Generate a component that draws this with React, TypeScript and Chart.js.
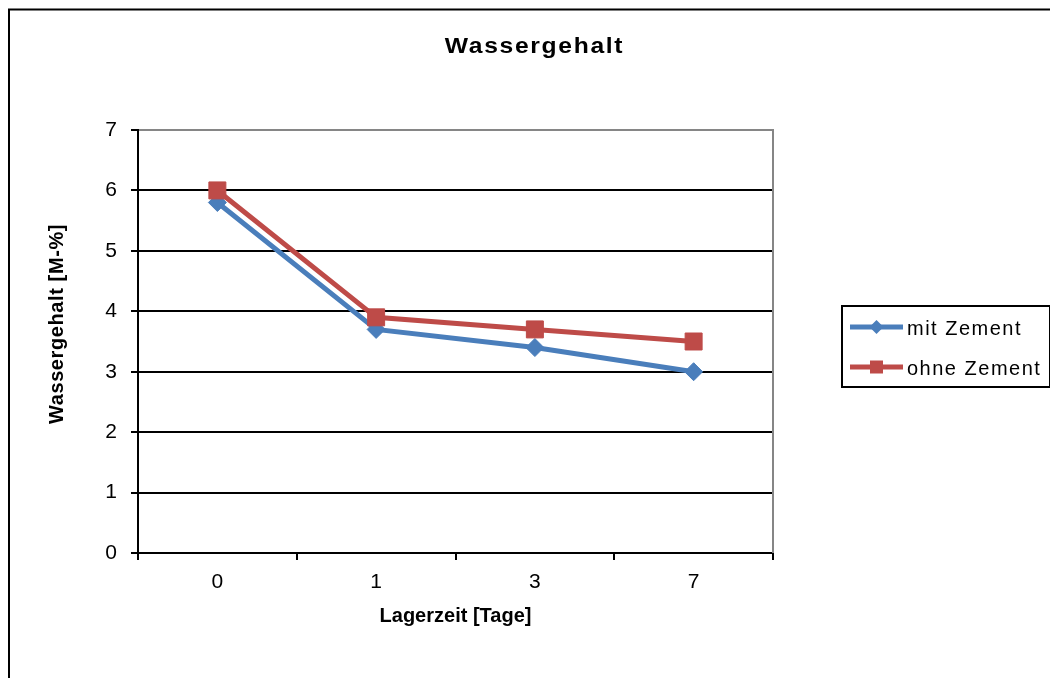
import React, { useEffect, useRef } from 'react';
import { Chart, registerables } from 'chart.js';

Chart.register(...registerables);

const categories = ['0', '1', '3', '7'];
const mitZement = [5.8, 3.7, 3.4, 3.0];
const ohneZement = [6.0, 3.9, 3.7, 3.5];
const seriesNames = ['mit Zement', 'ohne Zement'];
const yMin = 0;
const yMax = 7;
const yStep = 1;
const chartTitle = 'Wassergehalt';
const yTitle = 'Wassergehalt [M-%]';
const xTitle = 'Lagerzeit [Tage]';

const BLUE = '#4A7EBB';
const RED = '#BE4B48';
const GRAY = '#868686';
const FONT = '"Liberation Sans", Arial, sans-serif';

const decor = {
  id: 'decor',
  beforeDatasetsDraw(chart: any) {
    const { ctx, chartArea: a } = chart;
    ctx.save();
    ctx.strokeStyle = GRAY;
    ctx.lineWidth = 2;
    ctx.beginPath();
    ctx.moveTo(a.right, a.top - 1);
    ctx.lineTo(a.right, a.bottom);
    ctx.stroke();
    ctx.restore();
  },
  afterDraw(chart: any) {
    const { ctx, chartArea: a, width, height } = chart;
    ctx.save();
    // outer frame
    ctx.strokeStyle = '#000';
    ctx.lineWidth = 2;
    ctx.beginPath();
    ctx.moveTo(1, height);
    ctx.lineTo(1, 1.5);
    ctx.lineTo(width, 1.5);
    ctx.stroke();

    ctx.fillStyle = '#000';
    // chart title (slightly widened glyphs like the original rendering)
    ctx.save();
    ctx.font = `bold 22px ${FONT}`;
    (ctx as any).letterSpacing = '1.5px';
    ctx.textAlign = 'center';
    ctx.textBaseline = 'alphabetic';
    ctx.translate(width / 2 + 1.5, 45);
    ctx.scale(1.12, 1);
    ctx.fillText(chartTitle, 0, 0);
    ctx.restore();

    ctx.textAlign = 'center';
    ctx.textBaseline = 'alphabetic';
    // x title
    ctx.font = `bold 20px ${FONT}`;
    (ctx as any).letterSpacing = '0px';
    ctx.fillText(xTitle, (a.left + a.right) / 2, a.bottom + 69);

    // y title
    ctx.save();
    ctx.translate(54.5, 316);
    ctx.rotate(-Math.PI / 2);
    (ctx as any).letterSpacing = '0.6px';
    ctx.fillText(yTitle, 0, 0);
    ctx.restore();

    // legend
    const lx = 834, ly = 298, lw = 208, lh = 81;
    ctx.strokeStyle = '#000';
    ctx.lineWidth = 2;
    ctx.strokeRect(lx, ly, lw, lh);
    const colors = [BLUE, RED];
    const rows = [319, 359];
    ctx.font = `20px ${FONT}`;
    (ctx as any).letterSpacing = '1.5px';
    ctx.textAlign = 'left';
    seriesNames.forEach((name, i) => {
      const y = rows[i];
      ctx.strokeStyle = colors[i];
      ctx.fillStyle = colors[i];
      ctx.lineWidth = 5;
      ctx.beginPath();
      ctx.moveTo(842, y);
      ctx.lineTo(895, y);
      ctx.stroke();
      const cx = 868.5;
      ctx.beginPath();
      if (i === 0) {
        const r = 7;
        ctx.moveTo(cx - r, y);
        ctx.lineTo(cx, y - r);
        ctx.lineTo(cx + r, y);
        ctx.lineTo(cx, y + r);
        ctx.closePath();
      } else {
        ctx.rect(cx - 6.5, y - 6.5, 13, 13);
      }
      ctx.fill();
      ctx.fillStyle = '#000';
      ctx.fillText(name, 899, y + 8);
    });
    ctx.restore();
  },
};

export default function App() {
  const ref = useRef<HTMLCanvasElement>(null);
  useEffect(() => {
    document.documentElement.style.overflow = 'hidden';
    document.body.style.overflow = 'hidden';
    const chart = new Chart(ref.current!, {
      type: 'line',
      data: {
        labels: categories,
        datasets: [
          {
            label: seriesNames[0],
            data: mitZement,
            borderColor: BLUE,
            backgroundColor: BLUE,
            borderWidth: 5,
            pointStyle: 'rectRot',
            pointRadius: 9,
            pointBorderWidth: 1,
            pointBackgroundColor: BLUE,
            pointBorderColor: BLUE,
            tension: 0,
            order: 1,
          },
          {
            label: seriesNames[1],
            data: ohneZement,
            borderColor: RED,
            backgroundColor: RED,
            borderWidth: 5,
            pointStyle: 'rect',
            pointRadius: 12,
            pointBorderWidth: 1,
            pointBackgroundColor: RED,
            pointBorderColor: RED,
            tension: 0,
            order: 0,
          },
        ],
      },
      options: {
        responsive: false,
        animation: false,
        devicePixelRatio: 1,
        layout: { padding: { left: 0, top: 122, right: 285, bottom: 85 } },
        plugins: {
          legend: { display: false },
          title: { display: false },
          tooltip: { enabled: false },
        },
        scales: {
          x: {
            type: 'category',
            offset: true,
            grid: {
              offset: true,
              drawOnChartArea: false,
              drawTicks: true,
              tickLength: 7,
              color: '#000',
              tickColor: '#000',
              lineWidth: 2,
            },
            border: { display: true, color: '#000', width: 2 },
            ticks: {
              color: '#000',
              font: { family: FONT, size: 21 },
              padding: 10,
              maxRotation: 0,
            },
            afterFit(scale: any) {
              scale.height = 40;
            },
          },
          y: {
            min: yMin,
            max: yMax,
            grid: {
              color: (c: any) => (c.tick && c.tick.value === yMax ? GRAY : '#000'),
              tickColor: '#000',
              lineWidth: 2,
              tickLength: 7,
              drawTicks: true,
            },
            border: { display: true, color: '#000', width: 2 },
            ticks: {
              stepSize: yStep,
              color: '#000',
              font: { family: FONT, size: 21 },
              padding: 14,
            },
            afterFit(scale: any) {
              scale.width = 130;
            },
          },
        },
      },
      plugins: [decor],
    });
    return () => chart.destroy();
  }, []);
  return (
    <div style={{ width: 1050, height: 670 }}>
      <canvas ref={ref} width={1050} height={670} style={{ display: 'block' }} />
    </div>
  );
}
